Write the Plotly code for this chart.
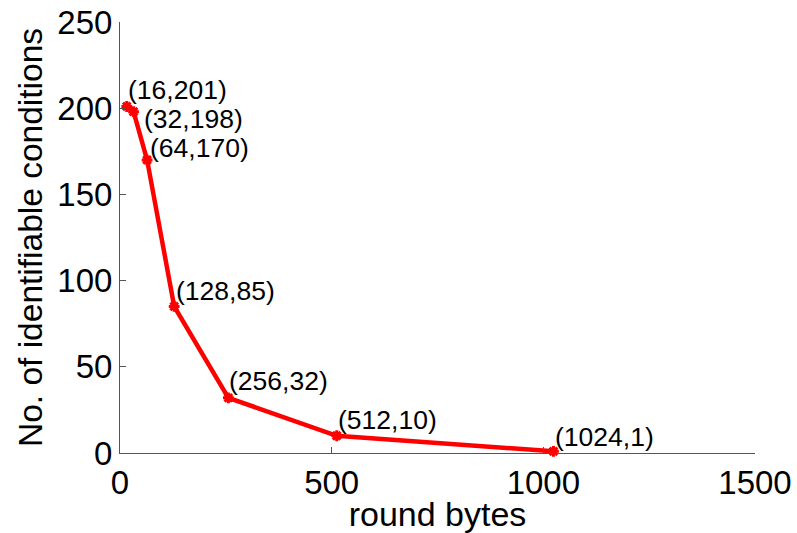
import plotly.graph_objects as go

round_bytes = [16, 32, 64, 128, 256, 512, 1024]
conditions = [201, 198, 170, 85, 32, 10, 1]
# per-label pixel offsets (dx, dy) for the point annotations
label_shift = [(0, 16), (9, -7), (2, 12), (1, 15), (0, 17), (0, 16), (1, 14)]

FONT = "Liberation Sans, Arial, Helvetica"

fig = go.Figure()
fig.add_trace(go.Scatter(
    x=round_bytes, y=conditions, mode="lines+markers",
    line=dict(color="#ff0000", width=4.5),
    marker=dict(symbol="asterisk-open", size=9, color="#ff0000",
                line=dict(color="#ff0000", width=3)),
    showlegend=False, cliponaxis=False,
))

for xv, yv, (dx, dy) in zip(round_bytes, conditions, label_shift):
    fig.add_annotation(
        x=xv, y=yv, text=f"({xv},{yv})", showarrow=False,
        xanchor="left", yanchor="middle", xshift=dx, yshift=dy,
        borderpad=0,
        font=dict(size=26.5, color="black", family=FONT),
    )

axis_common = dict(
    showgrid=False, zeroline=False, showline=True, linecolor="#555555",
    linewidth=1, ticks="inside", ticklen=6, tickcolor="#555555",
    tickfont=dict(size=33, color="black", family=FONT), mirror=False,
    automargin=False,
)

fig.update_xaxes(range=[0, 1500], tickvals=[0, 500, 1000, 1500],
                 title=dict(text="round bytes",
                            font=dict(size=34, color="black", family=FONT),
                            standoff=0), **axis_common)
fig.update_yaxes(range=[0, 250], tickvals=[0, 50, 100, 150, 200, 250],
                 title=dict(text="No. of identifiable conditions",
                            font=dict(size=33.5, color="black", family=FONT),
                            standoff=4),
                 **axis_common)

fig.update_layout(
    width=797, height=533, plot_bgcolor="white", paper_bgcolor="white",
    margin=dict(l=120, r=42, t=22, b=80),
    font=dict(family=FONT, color="black"),
)

fig.write_html("out.html")
